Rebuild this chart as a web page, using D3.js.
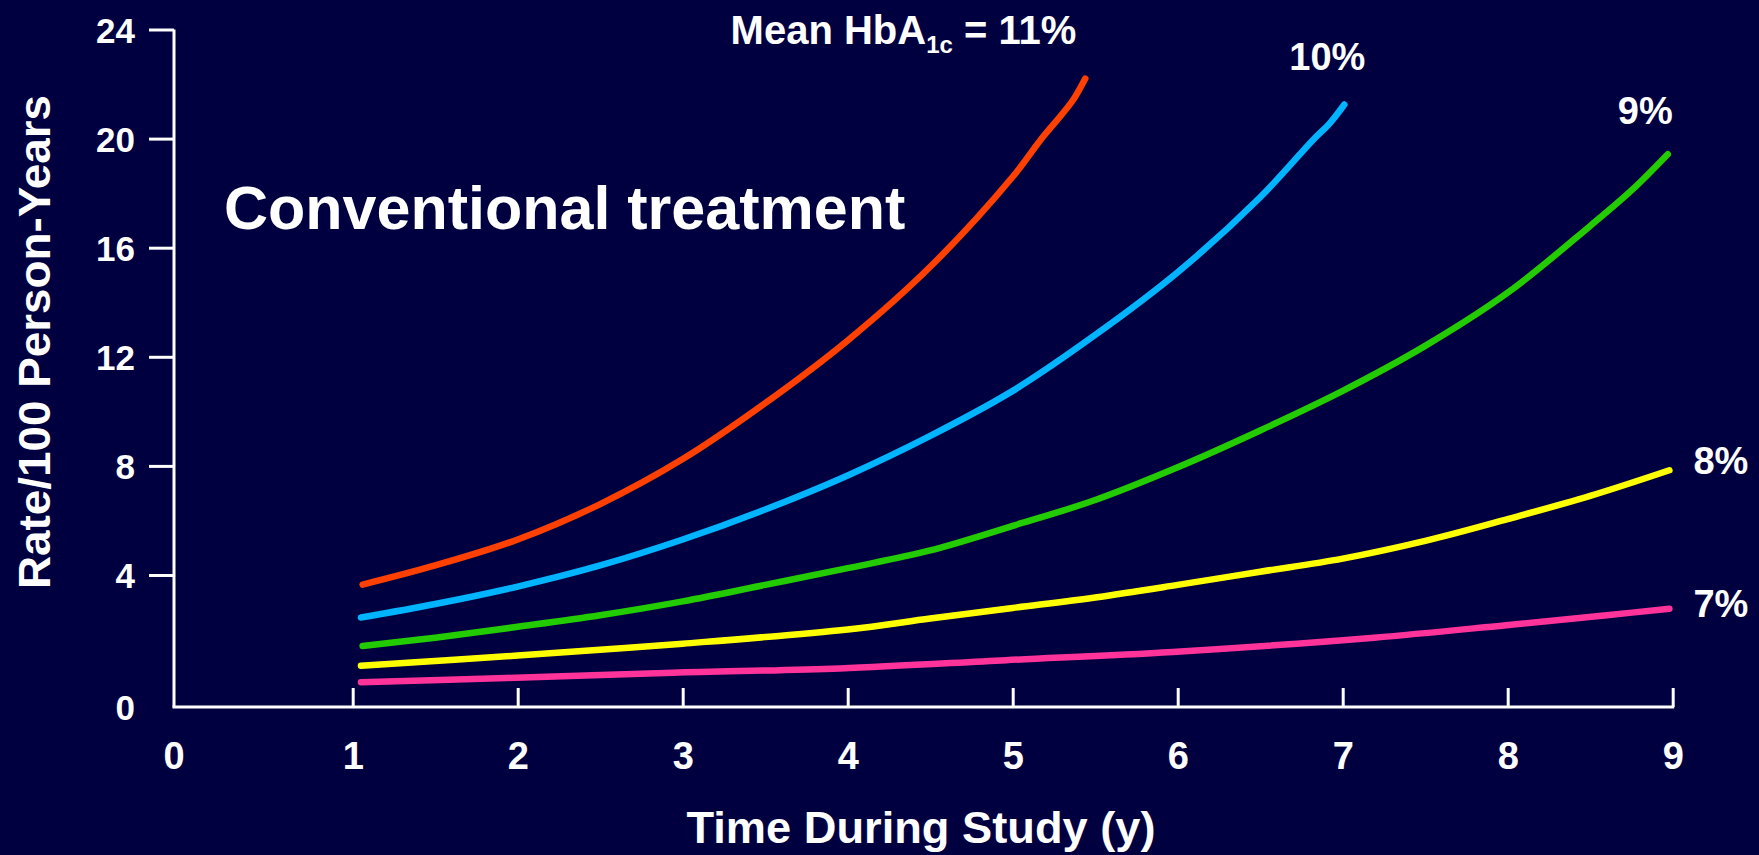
<!DOCTYPE html>
<html>
<head>
<meta charset="utf-8">
<script src="https://cdn.jsdelivr.net/npm/d3@7"></script>
<style>
  html, body { margin: 0; padding: 0; background: #000040; }
  svg { display: block; }
  text { font-family: "Liberation Sans", Arial, sans-serif; font-weight: bold; fill: #ffffff; }
</style>
</head>
<body>
<svg id="chart" width="1759" height="855"></svg>
<script>
// Rate of retinopathy progression by mean HbA1c, conventional treatment
const xTicks = [0, 1, 2, 3, 4, 5, 6, 7, 8, 9];
const yTicks = [0, 4, 8, 12, 16, 20, 24];

const seriesNames = ["11%", "10%", "9%", "8%", "7%"];

// [year, rate per 100 person-years]
const hba11 = [[1.06,3.71],[1.5,4.35],[2.0,5.3],[2.5,6.6],[3.0,8.25],[3.5,10.3],[4.0,12.6],[4.5,15.3],[5.0,18.6],[5.17,19.96],[5.3,20.9],[5.37,21.45],[5.44,22.2]];
const hba10 = [[1.05,2.71],[1.5,3.12],[2.0,3.65],[2.5,4.35],[3.0,5.3],[3.5,6.4],[4.0,7.65],[4.5,9.1],[5.0,10.75],[5.5,12.8],[6.0,15.1],[6.5,17.85],[6.82,19.95],[6.92,20.55],[7.01,21.25]];
const hba9  = [[1.06,1.85],[1.5,2.1],[2.0,2.43],[2.5,2.78],[3.0,3.2],[3.5,3.7],[4.0,4.25],[4.5,4.9],[5.0,5.8],[5.5,6.75],[6.0,7.95],[6.5,9.3],[7.0,10.75],[7.5,12.4],[8.0,14.35],[8.5,16.8],[8.75,18.1],[8.97,19.43]];
const hba8  = [[1.05,1.25],[2.0,1.56],[3.0,1.92],[4.0,2.35],[4.5,2.68],[5.0,3.0],[5.5,3.32],[6.0,3.7],[6.5,4.12],[7.0,4.6],[7.5,5.25],[8.0,6.05],[8.5,6.9],[8.98,7.84]];
const hba7  = [[1.05,0.75],[1.93,0.88],[2.94,1.04],[3.95,1.17],[4.96,1.42],[5.97,1.67],[7.19,2.10],[7.99,2.48],[8.60,2.78],[8.98,2.98]];

const seriesData = [hba11, hba10, hba9, hba8, hba7];
const seriesColors = ["#ff4000", "#00b4ff", "#22cc00", "#ffff00", "#ff3399"];

const svg = d3.select("#chart");

svg.append("rect").attr("width", 1759).attr("height", 855).attr("fill", "#000040");

// The origin sits a little away from the first ticks, so both scales are piecewise.
const x = d3.scaleLinear().domain([0, 1, 9]).range([174, 352.7, 1672.7]);
const y = d3.scaleLinear().domain([0, 4, 24]).range([707, 575, 29.5]);

// Y axis
const yAxis = svg.append("g").attr("transform", `translate(${x(0)},0)`)
  .call(d3.axisLeft(y).tickValues(yTicks.filter(d => d > 0)).tickSize(25).tickPadding(14).tickFormat(d3.format("d")));
yAxis.select(".domain").attr("d", `M0,${y(24)}V${y(0)}`);
yAxis.selectAll(".domain, .tick line").attr("stroke", "#ffffff").attr("stroke-width", 3);
yAxis.selectAll(".tick text").attr("font-size", 35).attr("fill", "#ffffff").attr("dy", "0.36em");

// Y origin label at the corner
svg.append("text").attr("x", x(0) - 39).attr("y", y(0)).attr("dy", "0.36em")
  .attr("text-anchor", "end").attr("font-size", 35).text(yTicks[0]);

// X axis with ticks pointing into the plot
const xAxis = svg.append("g").attr("transform", `translate(0,${y(0)})`)
  .call(d3.axisBottom(x).tickValues(xTicks.filter(d => d > 0)).tickSizeInner(-19).tickSizeOuter(0).tickPadding(0).tickFormat(d3.format("d")));
xAxis.select(".domain").attr("d", `M${x(0) - 1.5},0H${x(9) + 1.5}`);
xAxis.selectAll(".domain, .tick line").attr("stroke", "#ffffff").attr("stroke-width", 3);
xAxis.selectAll(".tick text").attr("font-size", 38).attr("fill", "#ffffff").attr("y", 62).attr("dy", 0);

svg.append("text").attr("x", x(0)).attr("y", y(0) + 62)
  .attr("text-anchor", "middle").attr("font-size", 38).text(xTicks[0]);

// Axis titles
svg.append("text").attr("x", 921).attr("y", 843).attr("text-anchor", "middle")
  .attr("font-size", 44).attr("textLength", 469).attr("lengthAdjust", "spacingAndGlyphs")
  .text("Time During Study (y)");

svg.append("text").attr("transform", "translate(50,342) rotate(-90)").attr("text-anchor", "middle")
  .attr("font-size", 45).attr("textLength", 494).attr("lengthAdjust", "spacingAndGlyphs")
  .text("Rate/100 Person-Years");

svg.append("text").attr("x", 224).attr("y", 229).attr("font-size", 61)
  .text("Conventional treatment");

// Curves
const line = d3.line().x(d => x(d[0])).y(d => y(d[1])).curve(d3.curveCatmullRom.alpha(0.5));
svg.append("g").selectAll("path").data(seriesData).join("path")
  .attr("d", line)
  .attr("fill", "none")
  .attr("stroke", (d, i) => seriesColors[i])
  .attr("stroke-width", 6.5)
  .attr("stroke-linecap", "round")
  .attr("stroke-linejoin", "round");

// End-of-curve labels
const labelOffsets = [[-9, -35, "end"], [21, -35, "end"], [5, -30, "end"], [24, 4, "start"], [24, 8, "start"]];
seriesData.forEach((s, i) => {
  const last = s[s.length - 1];
  const [dx, dy, anchor] = labelOffsets[i];
  const t = svg.append("text")
    .attr("x", x(last[0]) + dx).attr("y", y(last[1]) + dy)
    .attr("text-anchor", anchor);
  if (i === 0) {
    t.attr("font-size", 40);
    t.append("tspan").text("Mean HbA");
    t.append("tspan").attr("font-size", 24).attr("dy", 9).text("1c");
    t.append("tspan").attr("dy", -9).text(" = " + seriesNames[i]);
  } else {
    t.attr("font-size", 38).text(seriesNames[i]);
  }
});
</script>
</body>
</html>
